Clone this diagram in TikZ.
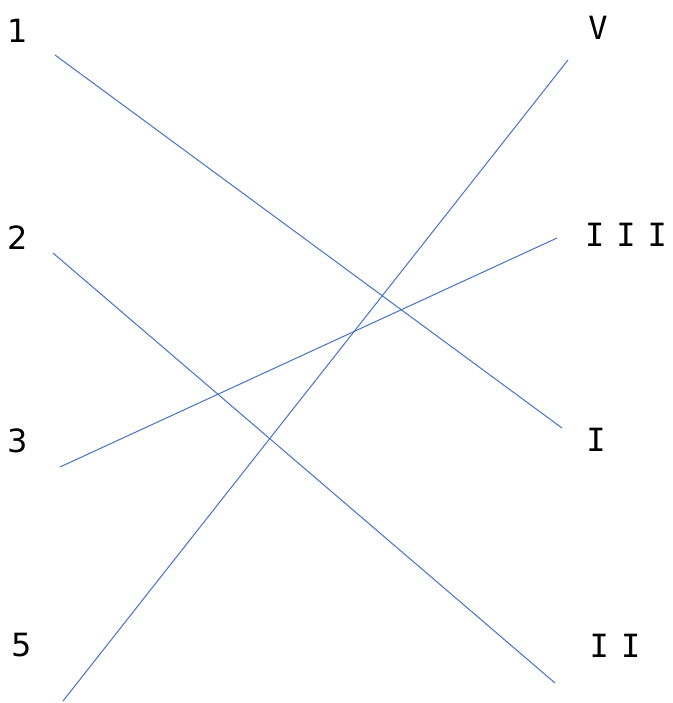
\documentclass[tikz,border=0pt]{standalone}
\usepackage{fontspec}
\setmainfont{DejaVu Sans}
\newfontfamily\romfont{DejaVu Sans Mono}
\usetikzlibrary{positioning}
\definecolor{lnblue}{HTML}{4472C4}

\begin{document}
\begin{tikzpicture}[
  x=1pt, y=-1pt,
  every node/.style={text=black, font=\fontsize{32}{36}\selectfont},
  numlbl/.style={},
  romlbl/.style={font=\fontsize{32}{36}\selectfont\romfont},
  match/.style={lnblue, line width=1pt},
]

% Canvas
\useasboundingbox (0,0) rectangle (672,703);

% Left labels
\node[numlbl] (n1) at (18,31) {1};
\node[numlbl] (n2) at (18,238) {2};
\node[numlbl] (n3) at (18,441) {3};
\node[numlbl] (n5) at (22,645) {5};

% Right labels
\node[romlbl] (rV) at (598,28) {V};
\node[romlbl] (rIII) at (626,235) {I\kern12pt I\kern12pt I};
\node[romlbl] (rI) at (596,440) {I};
\node[romlbl] (rII) at (615,646) {I\kern12pt I};

% Line ends
\coordinate (a1) at (55,55);
\coordinate (a2) at (53,253);
\coordinate (a3) at (60,467);
\coordinate (a5) at (63,701);
\coordinate (bV) at (568,60);
\coordinate (bIII) at (557,238);
\coordinate (bI) at (562,428);
\coordinate (bII) at (555,683);

% Matching lines
\draw[match] (a1) -- (bI);
\draw[match] (a2) -- (bII);
\draw[match] (a3) -- (bIII);
\draw[match] (a5) -- (bV);

\end{tikzpicture}
\end{document}
